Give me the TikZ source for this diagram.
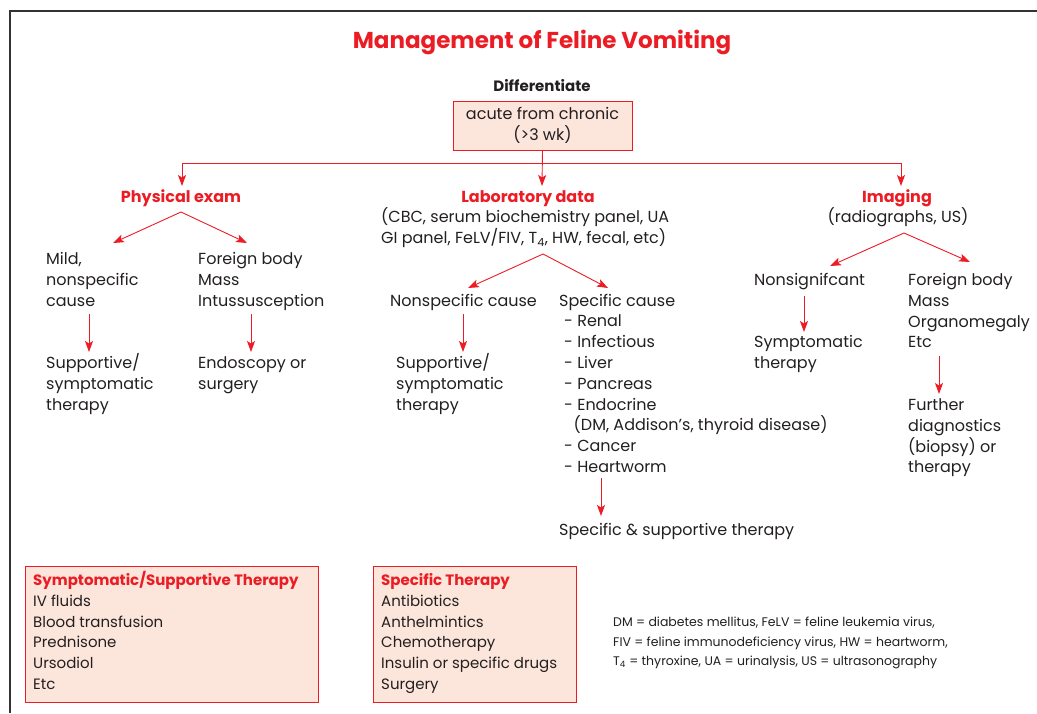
\documentclass[tikz,border=0pt]{standalone}
\usepackage{fontspec}
\setmainfont{Poppins}
\usetikzlibrary{arrows.meta}
\definecolor{vred}{HTML}{EC1C24}
\definecolor{vpink}{HTML}{FCE5DB}
\definecolor{vtext}{HTML}{231F20}
\definecolor{vframe}{HTML}{333333}
\tikzset{
  body/.style={font=\fontsize{16}{20.8}\selectfont, text=vtext},
  txt/.style={body, inner sep=0pt, align=left, anchor=base west},
  head/.style={font=\fontsize{16}{20.8}\selectfont\bfseries, text=vred, inner sep=0pt, anchor=base},
  arr/.style={draw=vred, line width=0.9pt, -{Stealth[length=11pt,width=8pt,inset=2.5pt]}},
  pinkbox/.style={draw=vred, fill=vpink, line width=0.9pt},
  boxtxt/.style={font=\fontsize{15}{20.8}\selectfont, text=vtext, inner sep=0pt, align=left, anchor=base west},
}
\begin{document}
\begin{tikzpicture}[x=1pt,y=-1pt]
\useasboundingbox (0,0) rectangle (1037,713);
% frame
\draw[vframe, line width=1.4pt] (10,713) -- (10,11) -- (1037,11);

% title
\node[font=\fontsize{23}{28}\selectfont\bfseries, text=vred, inner sep=0pt, anchor=base] (title) at (542,48) {Management of Feline Vomiting};
\node[font=\fontsize{15}{21}\selectfont\bfseries, text=vtext, inner sep=0pt, anchor=base] (diff) at (542,91) {Differentiate};
\node[pinkbox, body, align=center, minimum width=179pt, minimum height=49pt, inner sep=0pt] (acute) at (542.5,125.5) {acute from chronic\\(>3 wk)};

% headings
\node[head] (pe) at (181,202.5) {Physical exam};
\node[head] (lab) at (528,202.5) {Laboratory data};
\node[head] (img) at (897,202.5) {Imaging};
\node[txt] (labsub) at (381,243.5) {(CBC, serum biochemistry panel, UA\\GI panel, FeLV/FIV, T\textsubscript{4}, HW, fecal, etc)};
\node[body, inner sep=0pt, anchor=base] (imgsub) at (898,222.5) {(radiographs, US)};

% top split
\coordinate (split) at (542,163);
\coordinate (peT) at (182,186);
\coordinate (labT) at (542,186);
\coordinate (imgT) at (901,186);
\draw[arr] (acute.south) -- (labT);
\draw[arr] (split) -| (peT);
\draw[arr] (split) -| (imgT);

% physical exam branch
\node[txt] (mild) at (46,306.5) {Mild,\\nonspecific\\cause};
\node[txt] (fb) at (198,306.5) {Foreign body\\Mass\\Intussusception};
\node[txt] (sup1) at (46,410.5) {Supportive/\\symptomatic\\therapy};
\node[txt] (endo) at (198,389.5) {Endoscopy or\\surgery};
\coordinate (peS) at (181,212);
\coordinate (mildT) at (113,243);
\coordinate (fbT) at (247,243);
\draw[arr] (peS) -- (mildT);
\draw[arr] (peS) -- (fbT);
\coordinate (mildB) at (89,314);
\coordinate (sup1T) at (89,352);
\coordinate (fbB) at (251,314);
\coordinate (endoT) at (251,352);
\draw[arr] (mildB) -- (sup1T);
\draw[arr] (fbB) -- (endoT);

% lab branch
\node[txt] (nonspec) at (390,306.5) {Nonspecific cause};
\node[txt] (spec) at (559,472.5) {Specific cause\\
\hspace*{5pt}- Renal\\
\hspace*{5pt}- Infectious\\
\hspace*{5pt}- Liver\\
\hspace*{5pt}- Pancreas\\
\hspace*{5pt}- Endocrine\\
\hspace*{14.5pt}(DM, Addison's, thyroid disease)\\
\hspace*{5pt}- Cancer\\
\hspace*{5pt}- Heartworm};
\node[txt] (sup2) at (396,410.5) {Supportive/\\symptomatic\\therapy};
\node[txt] (spsup) at (559,535.5) {Specific \& supportive therapy};
\coordinate (labS) at (543,254);
\coordinate (nonspecT) at (468,288);
\coordinate (specT) at (608,288);
\draw[arr] (labS) -- (nonspecT);
\draw[arr] (labS) -- (specT);
\coordinate (nonspecB) at (463,314);
\coordinate (sup2T) at (463,352);
\draw[arr] (nonspecB) -- (sup2T);
\coordinate (specB) at (601,478);
\coordinate (spsupT) at (601,516);
\draw[arr] (specB) -- (spsupT);

% imaging branch
\node[txt] (nonsig) at (754,285.5) {Nonsignifcant};
\node[txt] (fb2) at (908,347.9) {Foreign body\\Mass\\Organomegaly\\Etc};
\node[txt] (symp) at (754,368.3) {Symptomatic\\therapy};
\node[txt] (further) at (908,472.9) {Further\\diagnostics\\(biopsy) or\\therapy};
\coordinate (imgS) at (904,233);
\coordinate (nonsigT) at (830,266);
\coordinate (fb2T) at (970,262);
\draw[arr] (imgS) -- (nonsigT);
\draw[arr] (imgS) -- (fb2T);
\coordinate (nonsigB) at (804,296);
\coordinate (sympT) at (804,332);
\draw[arr] (nonsigB) -- (sympT);
\coordinate (fb2B) at (939,356);
\coordinate (furtherT) at (939,394);
\draw[arr] (fb2B) -- (furtherT);

% bottom boxes
\node[pinkbox, anchor=north west, minimum width=293pt, minimum height=136pt, inner sep=0pt] (symbox) at (25,566) {};
\node[boxtxt] (symtxt) at (33,689.5) {{\bfseries\color{vred}Symptomatic/Supportive Therapy}\\IV fluids\\Blood transfusion\\Prednisone\\Ursodiol\\Etc};
\node[pinkbox, anchor=north west, minimum width=203pt, minimum height=136pt, inner sep=0pt] (specbox) at (373,566) {};
\node[boxtxt] (spectxt) at (381,689.5) {{\bfseries\color{vred}Specific Therapy}\\Antibiotics\\Anthelmintics\\Chemotherapy\\Insulin or specific drugs\\Surgery};

% footnote
\node[font=\fontsize{12.5}{19.5}\selectfont, text=vtext, inner sep=0pt, align=left, anchor=base west] (foot) at (613,665.5) {DM = diabetes mellitus, FeLV = feline leukemia virus,\\FIV = feline immunodeficiency virus, HW = heartworm,\\T\textsubscript{4} = thyroxine, UA = urinalysis, US = ultrasonography};
\end{tikzpicture}
\end{document}
